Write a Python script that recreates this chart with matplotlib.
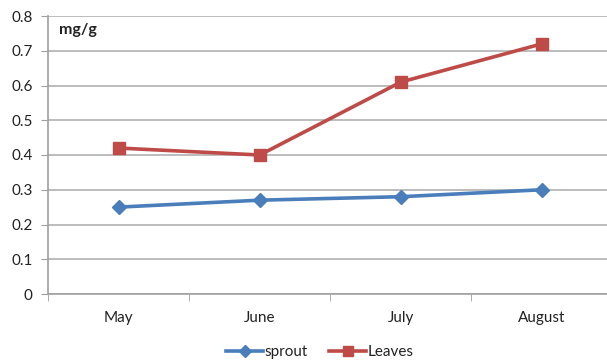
import matplotlib
matplotlib.use("Agg")
import matplotlib.pyplot as plt
from matplotlib.ticker import FixedLocator

plt.rcParams['font.family'] = ['Lato', 'DejaVu Sans']

months = ["May", "June", "July", "August"]
sprout = [0.25, 0.27, 0.28, 0.30]
leaves = [0.42, 0.40, 0.61, 0.72]
yticks = [0, 0.1, 0.2, 0.3, 0.4, 0.5, 0.6, 0.7, 0.8]

fig = plt.figure(figsize=(6.07, 3.62), dpi=100)
ax = fig.add_axes([48/607, 1-294/362, 1-48/607, (294-16)/362])

x = list(range(len(months)))
ax.plot(x, sprout, color='#4a7ebb', lw=2.6, marker='D', ms=7.5, label='sprout', zorder=3)
ax.plot(x, leaves, color='#be4b48', lw=2.6, marker='s', ms=9, label='Leaves', zorder=3)

ax.set_xlim(-0.5, 3.46)
ax.set_ylim(0, 0.8)
ax.set_yticks(yticks)
ax.set_yticklabels(["0" if v == 0 else f"{v:.1f}" for v in yticks])
ax.set_xticks(x)
ax.set_xticklabels(months)
ax.xaxis.set_minor_locator(FixedLocator([-0.5, 0.5, 1.5, 2.5, 3.5]))
ax.tick_params(axis='x', which='major', length=0, pad=12, labelsize=11, colors='#222222')
ax.tick_params(axis='x', which='minor', length=5, color='#a0a0a0', direction='out')
ax.tick_params(axis='y', length=5, color='#a0a0a0', pad=6, labelsize=11, labelcolor='#222222')
ax.grid(axis='y', color='#b0b0b0', lw=1.2)
ax.set_axisbelow(True)
for s in ['top', 'right']:
    ax.spines[s].set_visible(False)
for s in ['left', 'bottom']:
    ax.spines[s].set_color('#a0a0a0')
    ax.spines[s].set_linewidth(1.2)

ax.text(0.02, 0.975, "mg/g", transform=ax.transAxes, fontsize=11.5, fontweight='bold',
        va='top', ha='left', color='#222222')

fig.legend(loc='center', bbox_to_anchor=(320/607, 1-352/362), ncol=2, frameon=False,
           fontsize=11, handlelength=2.4, handletextpad=0.1, columnspacing=1.4,
           labelcolor='#222222', markerscale=0.8)

fig.savefig("out.png", dpi=100)
